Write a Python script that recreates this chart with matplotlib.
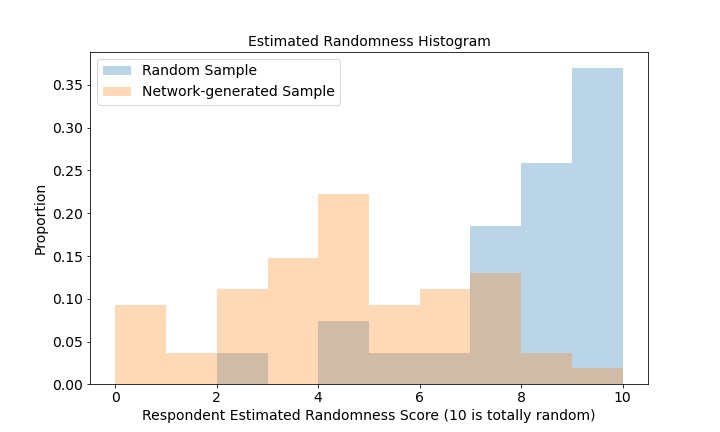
import matplotlib
matplotlib.use("Agg")
import matplotlib.pyplot as plt
import numpy as np

bin_edges = [0,1,2,3,4,5,6,7,8,9,10]
random_props = [0, 0, 0.037, 0, 0.074, 0.037, 0.037, 0.185, 0.259, 0.370]
network_props = [0.093, 0.037, 0.111, 0.148, 0.222, 0.093, 0.111, 0.130, 0.037, 0.019]

fig, ax = plt.subplots(figsize=(10, 6), dpi=72)
left = np.array(bin_edges[:-1])
w = np.diff(bin_edges)
ax.bar(left, random_props, width=w, align='edge', color='#1f77b4', alpha=0.3, label='Random Sample')
ax.bar(left, network_props, width=w, align='edge', color='#ff7f0e', alpha=0.3, label='Network-generated Sample')
ax.set_title('Estimated Randomness Histogram', fontsize=14)
ax.set_xlabel('Respondent Estimated Randomness Score (10 is totally random)', fontsize=14)
ax.set_ylabel('Proportion', fontsize=14)
ax.tick_params(labelsize=14)
ax.legend(fontsize=14, loc='upper left')
plt.savefig('out.png', dpi=72)
